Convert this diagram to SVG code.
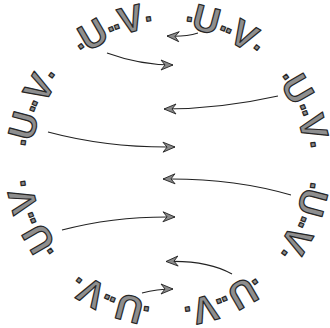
<svg xmlns="http://www.w3.org/2000/svg" xmlns:xlink="http://www.w3.org/1999/xlink" width="330" height="328" viewBox="0 0 330 328">
  <style>
    .lbl { font-family: "Liberation Sans", Arial, sans-serif; font-weight: bold; font-size: 37px; fill: #8e8e8e; stroke: #262626; stroke-width: 1.2; stroke-linejoin: round; text-anchor: middle; }
    .d { font-size: 28px; letter-spacing: -3.5px; }
    .conn { fill: none; stroke: #222; stroke-width: 1.1; marker-end: url(#arrow); }
  </style>
  <defs>
    <path id="ring" d="M31,164 A137,137 0 1 1 305,164 A137,137 0 1 1 31,164"/>
    <marker id="arrow" viewBox="-13 -6 14 12" refX="0" refY="0" markerWidth="14" markerHeight="12" markerUnits="userSpaceOnUse" orient="auto">
      <path d="M0,0 L-12,-5 L-8,0 L-12,5 Z" fill="#8a8a8a" stroke="#222" stroke-width="0.9" stroke-linejoin="round"/>
    </marker>
  </defs>

  <g id="label-top-left"><text class="lbl"><textPath href="#ring" xlink:href="#ring" startOffset="161.4"><tspan class="d">·</tspan>U<tspan class="d">··</tspan>V<tspan class="d">·</tspan></textPath></text></g>
  <g id="label-top-right"><text class="lbl"><textPath href="#ring" xlink:href="#ring" startOffset="268.9"><tspan class="d">·</tspan>U<tspan class="d">··</tspan>V<tspan class="d">·</tspan></textPath></text></g>
  <g id="label-right"><text class="lbl"><textPath href="#ring" xlink:href="#ring" startOffset="376.6"><tspan class="d">·</tspan>U<tspan class="d">··</tspan>V<tspan class="d">·</tspan></textPath></text></g>
  <g id="label-right-lower"><text class="lbl"><textPath href="#ring" xlink:href="#ring" startOffset="484.2"><tspan class="d">·</tspan>U<tspan class="d">··</tspan>V<tspan class="d">·</tspan></textPath></text></g>
  <g id="label-bottom-right"><text class="lbl"><textPath href="#ring" xlink:href="#ring" startOffset="591.8"><tspan class="d">·</tspan>U<tspan class="d">··</tspan>V<tspan class="d">·</tspan></textPath></text></g>
  <g id="label-bottom-left"><text class="lbl"><textPath href="#ring" xlink:href="#ring" startOffset="699.4"><tspan class="d">·</tspan>U<tspan class="d">··</tspan>V<tspan class="d">·</tspan></textPath></text></g>
  <g id="label-left-lower"><text class="lbl"><textPath href="#ring" xlink:href="#ring" startOffset="806.9"><tspan class="d">·</tspan>U<tspan class="d">··</tspan>V<tspan class="d">·</tspan></textPath></text></g>
  <g id="label-left"><text class="lbl"><textPath href="#ring" xlink:href="#ring" startOffset="53.8"><tspan class="d">·</tspan>U<tspan class="d">··</tspan>V<tspan class="d">·</tspan></textPath></text></g>

  <g id="connectors">
    <path class="conn" d="M107,53 Q140,65 173,65"/>
    <path class="conn" d="M198,33 Q185,37 167,36"/>
    <path class="conn" d="M278,96 Q220,109 164,109"/>
    <path class="conn" d="M48,132 Q108,148 175,147"/>
    <path class="conn" d="M291,195 Q233,178 163,179"/>
    <path class="conn" d="M62,230 Q115,216 175,217"/>
    <path class="conn" d="M232,274 Q207,260 166,261.5"/>
    <path class="conn" d="M142,293 Q157,289 173,289"/>
  </g>
</svg>
